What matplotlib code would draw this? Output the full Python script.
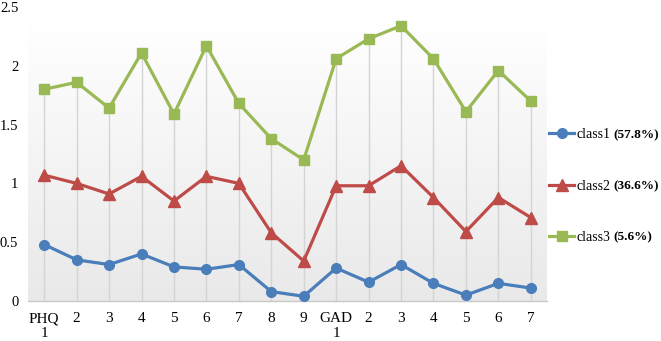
import numpy as np
import matplotlib
matplotlib.use("Agg")
import matplotlib.pyplot as plt
from matplotlib.colors import LinearSegmentedColormap

plt.rcParams['font.family'] = ['Liberation Serif', 'DejaVu Serif']

categories = ["PHQ\n1", "2", "3", "4", "5", "6", "7", "8", "9",
              "GAD\n1", "2", "3", "4", "5", "6", "7"]
class1 = [0.48, 0.35, 0.31, 0.40, 0.29, 0.27, 0.31, 0.08, 0.04,
          0.28, 0.16, 0.31, 0.15, 0.05, 0.15, 0.11]
class2 = [1.07, 1.00, 0.91, 1.06, 0.85, 1.06, 1.00, 0.58, 0.34,
          0.98, 0.98, 1.15, 0.88, 0.59, 0.88, 0.71]
class3 = [1.80, 1.86, 1.64, 2.11, 1.59, 2.17, 1.68, 1.38, 1.20,
          2.06, 2.23, 2.34, 2.06, 1.61, 1.96, 1.70]
names = ["class1", "class2", "class3"]
shares = ["(57.8%)", "(36.6%)", "(5.6%)"]
yticks = [0, 0.5, 1, 1.5, 2, 2.5]
yticklabels = ["0", "0.5", "1", "1.5", "2", "2.5"]

W, H = 661, 341
fig = plt.figure(figsize=(W / 100, H / 100), dpi=100)
ax = fig.add_axes([28 / W, (H - 301) / H, (547 - 28) / W, (301 - 7) / H])

x = np.arange(len(categories))
ax.set_xlim(-0.5, len(categories) - 0.5)
ax.set_ylim(0, 2.5)

# gradient background of plot area
grad = np.linspace(0, 1, 256).reshape(-1, 1)
cmap = LinearSegmentedColormap.from_list("g", ["#e9e9e9", "#ffffff"])
ax.imshow(grad, aspect="auto", cmap=cmap, origin="lower",
          extent=(-0.5, len(categories) - 0.5, 0, 2.39), zorder=0)

# high-low drop lines
tops = np.max([class1, class2, class3], axis=0)
ax.vlines(x, 0, tops, colors="#d4d4d4", lw=1, zorder=1)

colors = ["#4a7ebb", "#be4b48", "#98b954"]
markers = ["o", "^", "s"]
msizes = [7, 8, 7.5]
handles = []
for vals, c, m, ms, n in zip([class1, class2, class3], colors, markers, msizes, names):
    h, = ax.plot(x, vals, color=c, lw=2.3, marker=m, ms=ms, mec=c, mfc=c,
                 label=n, zorder=3)
    handles.append(h)

ax.set_xticks(x)
ax.set_xticklabels(categories, fontsize=11, linespacing=1.2, va="top")
ax.set_yticks(yticks)
ax.set_yticklabels(yticklabels, fontsize=10.5)
ax.tick_params(axis="both", length=0)
ax.tick_params(axis="x", pad=8)
ax.tick_params(axis="y", pad=7)
for s in ["top", "right", "left"]:
    ax.spines[s].set_visible(False)
ax.spines["bottom"].set_color("#c8c8c8")
ax.spines["bottom"].set_linewidth(1)

leg = ax.legend(handles=handles, loc="center left",
                bbox_to_anchor=(549 / W, (H - 186) / H),
                bbox_transform=fig.transFigure, frameon=False,
                fontsize=10, labelspacing=2.75, handlelength=1.8,
                handletextpad=0.15, borderpad=0, borderaxespad=0)

fig.canvas.draw()
inv = fig.transFigure.inverted()
for t, s in zip(leg.get_texts(), shares):
    bb = t.get_window_extent()
    px, py = inv.transform((bb.x1 + 3, bb.y0))
    fig.text(px, py, s, fontsize=9.5, fontweight="bold",
             va="bottom", ha="left")

fig.savefig("out.png", dpi=100)
